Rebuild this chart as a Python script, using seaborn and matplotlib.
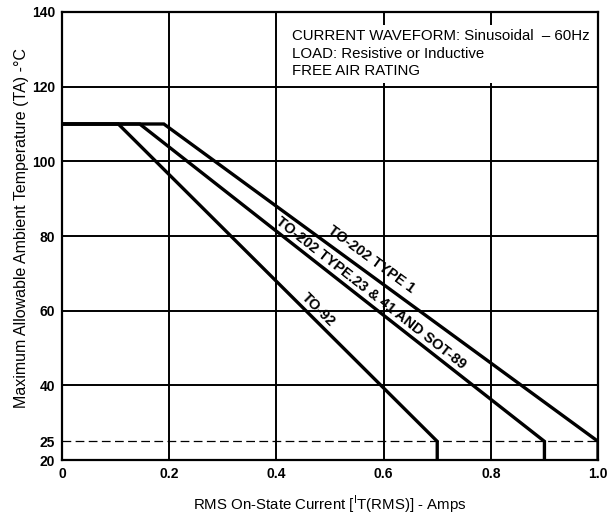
import numpy as np
import pandas as pd
import matplotlib
matplotlib.use("Agg")
import matplotlib.pyplot as plt
import seaborn as sns

# Derating curves: flat at the maximum rating, then linear down to 25 °C
devices = ["TO-92", "TO-202 TYPE.23 & 41 AND SOT-89", "TO-202 TYPE 1"]
knee_current = [0.105, 0.145, 0.19]      # Amps where derating begins
max_current = [0.70, 0.90, 1.00]         # Amps at 25 °C ambient
flat_temp = 110                          # °C plateau
end_temp = 25                            # °C reference ambient
floor_temp = 20                          # bottom of the scale

x_ticks = [0, 0.2, 0.4, 0.6, 0.8, 1.0]
x_tick_labels = ["0", "0.2", "0.4", "0.6", "0.8", "1.0"]
y_grid = [20, 40, 60, 80, 100, 120, 140]
y_grid_labels = ["20", "40", "60", "80", "100", "120", "140"]

rows = []
for dev, k, m in zip(devices, knee_current, max_current):
    pts = [(0.0, flat_temp), (k, flat_temp), (m, end_temp), (m, floor_temp)]
    for i, (cx, ty) in enumerate(pts):
        rows.append({"device": dev, "order": i, "current": cx, "temp": ty})
df = pd.DataFrame(rows)

sns.set_theme(style="white")
plt.rcParams["font.family"] = ["Liberation Sans", "DejaVu Sans"]
plt.rcParams["mathtext.fontset"] = "custom"
plt.rcParams["mathtext.rm"] = "Liberation Sans"
for key in ("text.color", "axes.labelcolor", "xtick.color", "ytick.color"):
    plt.rcParams[key] = "black"

fig = plt.figure(figsize=(6.14, 5.21), dpi=100)
ax = fig.add_axes([0.101, 0.117, 0.873, 0.860])

ax.set_xlim(0, 1.0)
ax.set_ylim(20, 140)

sns.lineplot(data=df, x="current", y="temp", units="device", estimator=None,
             sort=False, color="black", lw=2.4, ax=ax, legend=False,
             solid_joinstyle="miter", zorder=4)

# 25 °C reference line
ax.axhline(end_temp, color="black", lw=0.9, ls=(0, (7, 3.5)), zorder=3)

ax.set_xticks(x_ticks, labels=x_tick_labels)
ax.set_yticks(y_grid, labels=y_grid_labels)
ax.set_yticks([end_temp], labels=[str(end_temp)], minor=True)
ax.grid(True, which="major", color="black", lw=1.4)
ax.grid(False, which="minor")
ax.tick_params(which="both", length=0, labelsize=10, pad=5)
for lab in ax.get_xticklabels() + ax.get_yticklabels(minor=False) + ax.get_yticklabels(minor=True):
    lab.set_fontweight("bold")

for s in ax.spines.values():
    s.set_color("black")
    s.set_linewidth(1.6)
    s.set_zorder(8)

ax.set_xlabel(r"RMS On-State Current [$^{\mathregular{I}}$T(RMS)] - Amps",
              fontsize=10.8)
ax.xaxis.set_label_coords(0.5, -0.076)
ax.set_ylabel("Maximum Allowable Ambient Temperature (TA) -°C", fontsize=11.5)
ax.yaxis.set_label_coords(-0.062, 0.518)

ax.text(0.429, 0.962,
        "CURRENT WAVEFORM: Sinusoidal  – 60Hz\nLOAD: Resistive or Inductive\nFREE AIR RATING",
        transform=ax.transAxes, ha="left", va="top", fontsize=10.8,
        linespacing=1.32, zorder=5,
        bbox=dict(boxstyle="square,pad=0.3", fc="white", ec="none"))

# Curve labels placed along each sloped segment
label_x = [0.466, 0.565, 0.563]
label_off = [6.8, 7.2, 9.2]
for dev, k, m, lx, off in zip(devices, knee_current, max_current, label_x, label_off):
    p0 = ax.transData.transform((k, flat_temp))
    p1 = ax.transData.transform((m, end_temp))
    ang = np.degrees(np.arctan2(p1[1] - p0[1], p1[0] - p0[0]))
    ly = flat_temp + (lx - k) / (m - k) * (end_temp - flat_temp)
    nx, ny = -np.sin(np.radians(ang)), np.cos(np.radians(ang))
    ax.annotate(dev, xy=(lx, ly), xytext=(nx * off, ny * off),
                textcoords="offset points", rotation=ang,
                rotation_mode="anchor", ha="center", va="center",
                fontsize=10.5, fontweight="bold", zorder=6)

fig.savefig("out.png", dpi=100)
